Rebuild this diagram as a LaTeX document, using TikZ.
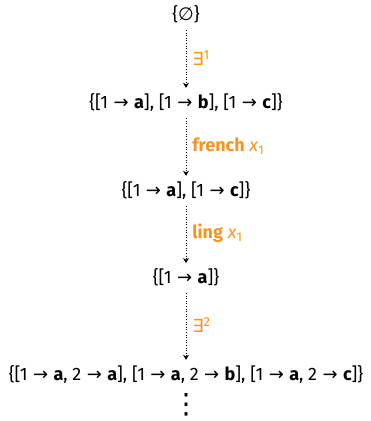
\documentclass[tikz,border=0pt]{standalone}
\usepackage{fontspec}
\setmainfont{Fira Sans}
\newfontfamily\symfont{DejaVu Sans}
\usepackage{tikz}
\usetikzlibrary{arrows.meta,positioning}
\definecolor{stepgold}{HTML}{F7941D}
\newcommand{\ra}{\hspace{0.3em}{\symfont\char"2192}\hspace{0.3em}}
\newcommand{\ex}[1]{{\symfont\char"2203}\raisebox{0.6ex}{\fontsize{13}{13}\selectfont #1}}
\newcommand{\va}{\textbf{a}}
\newcommand{\vb}{\textbf{b}}
\newcommand{\vc}{\textbf{c}}
\tikzset{
  setnode/.style={font=\fontsize{18}{20}\selectfont,inner sep=2pt,align=center},
  steparrow/.style={-{Stealth[length=5pt,width=6pt]},dotted,semithick,shorten <=5pt,shorten >=3pt},
  steplabel/.style={right,font=\fontsize{18}{20}\selectfont,text=stepgold,inner sep=1pt,xshift=5pt}
}
\begin{document}
\begin{tikzpicture}[x=1pt,y=1pt]
\useasboundingbox (0,0) rectangle (371,-421);
\node[setnode] (s0) at (186,-14) {\{{\symfont\char"2205}\}};
\node[setnode] (s1) at (186,-102) {\{[1\ra\va], [1\ra\vb], [1\ra\vc]\}};
\node[setnode] (s2) at (186,-190) {\{[1\ra\va], [1\ra\vc]\}};
\node[setnode] (s3) at (186,-277) {\{[1\ra\va]\}};
\node[setnode] (s4) at (186,-374) {\{[1\ra\va, 2\ra\va], [1\ra\va, 2\ra\vb], [1\ra\va, 2\ra\vc]\}};
\node[setnode,font=\fontsize{28}{28}\symfont] (more) at (186,-405) {\char"22EE};
\draw[steparrow] (s0) -- node[steplabel]{\ex{1}} (s1);
\draw[steparrow] (s1) -- node[steplabel]{\textbf{french} \textit{x}\textsubscript{1}} (s2);
\draw[steparrow] (s2) -- node[steplabel]{\textbf{ling} \textit{x}\textsubscript{1}} (s3);
\draw[steparrow] (s3) -- node[steplabel]{\ex{2}} (s4);
\end{tikzpicture}
\end{document}
